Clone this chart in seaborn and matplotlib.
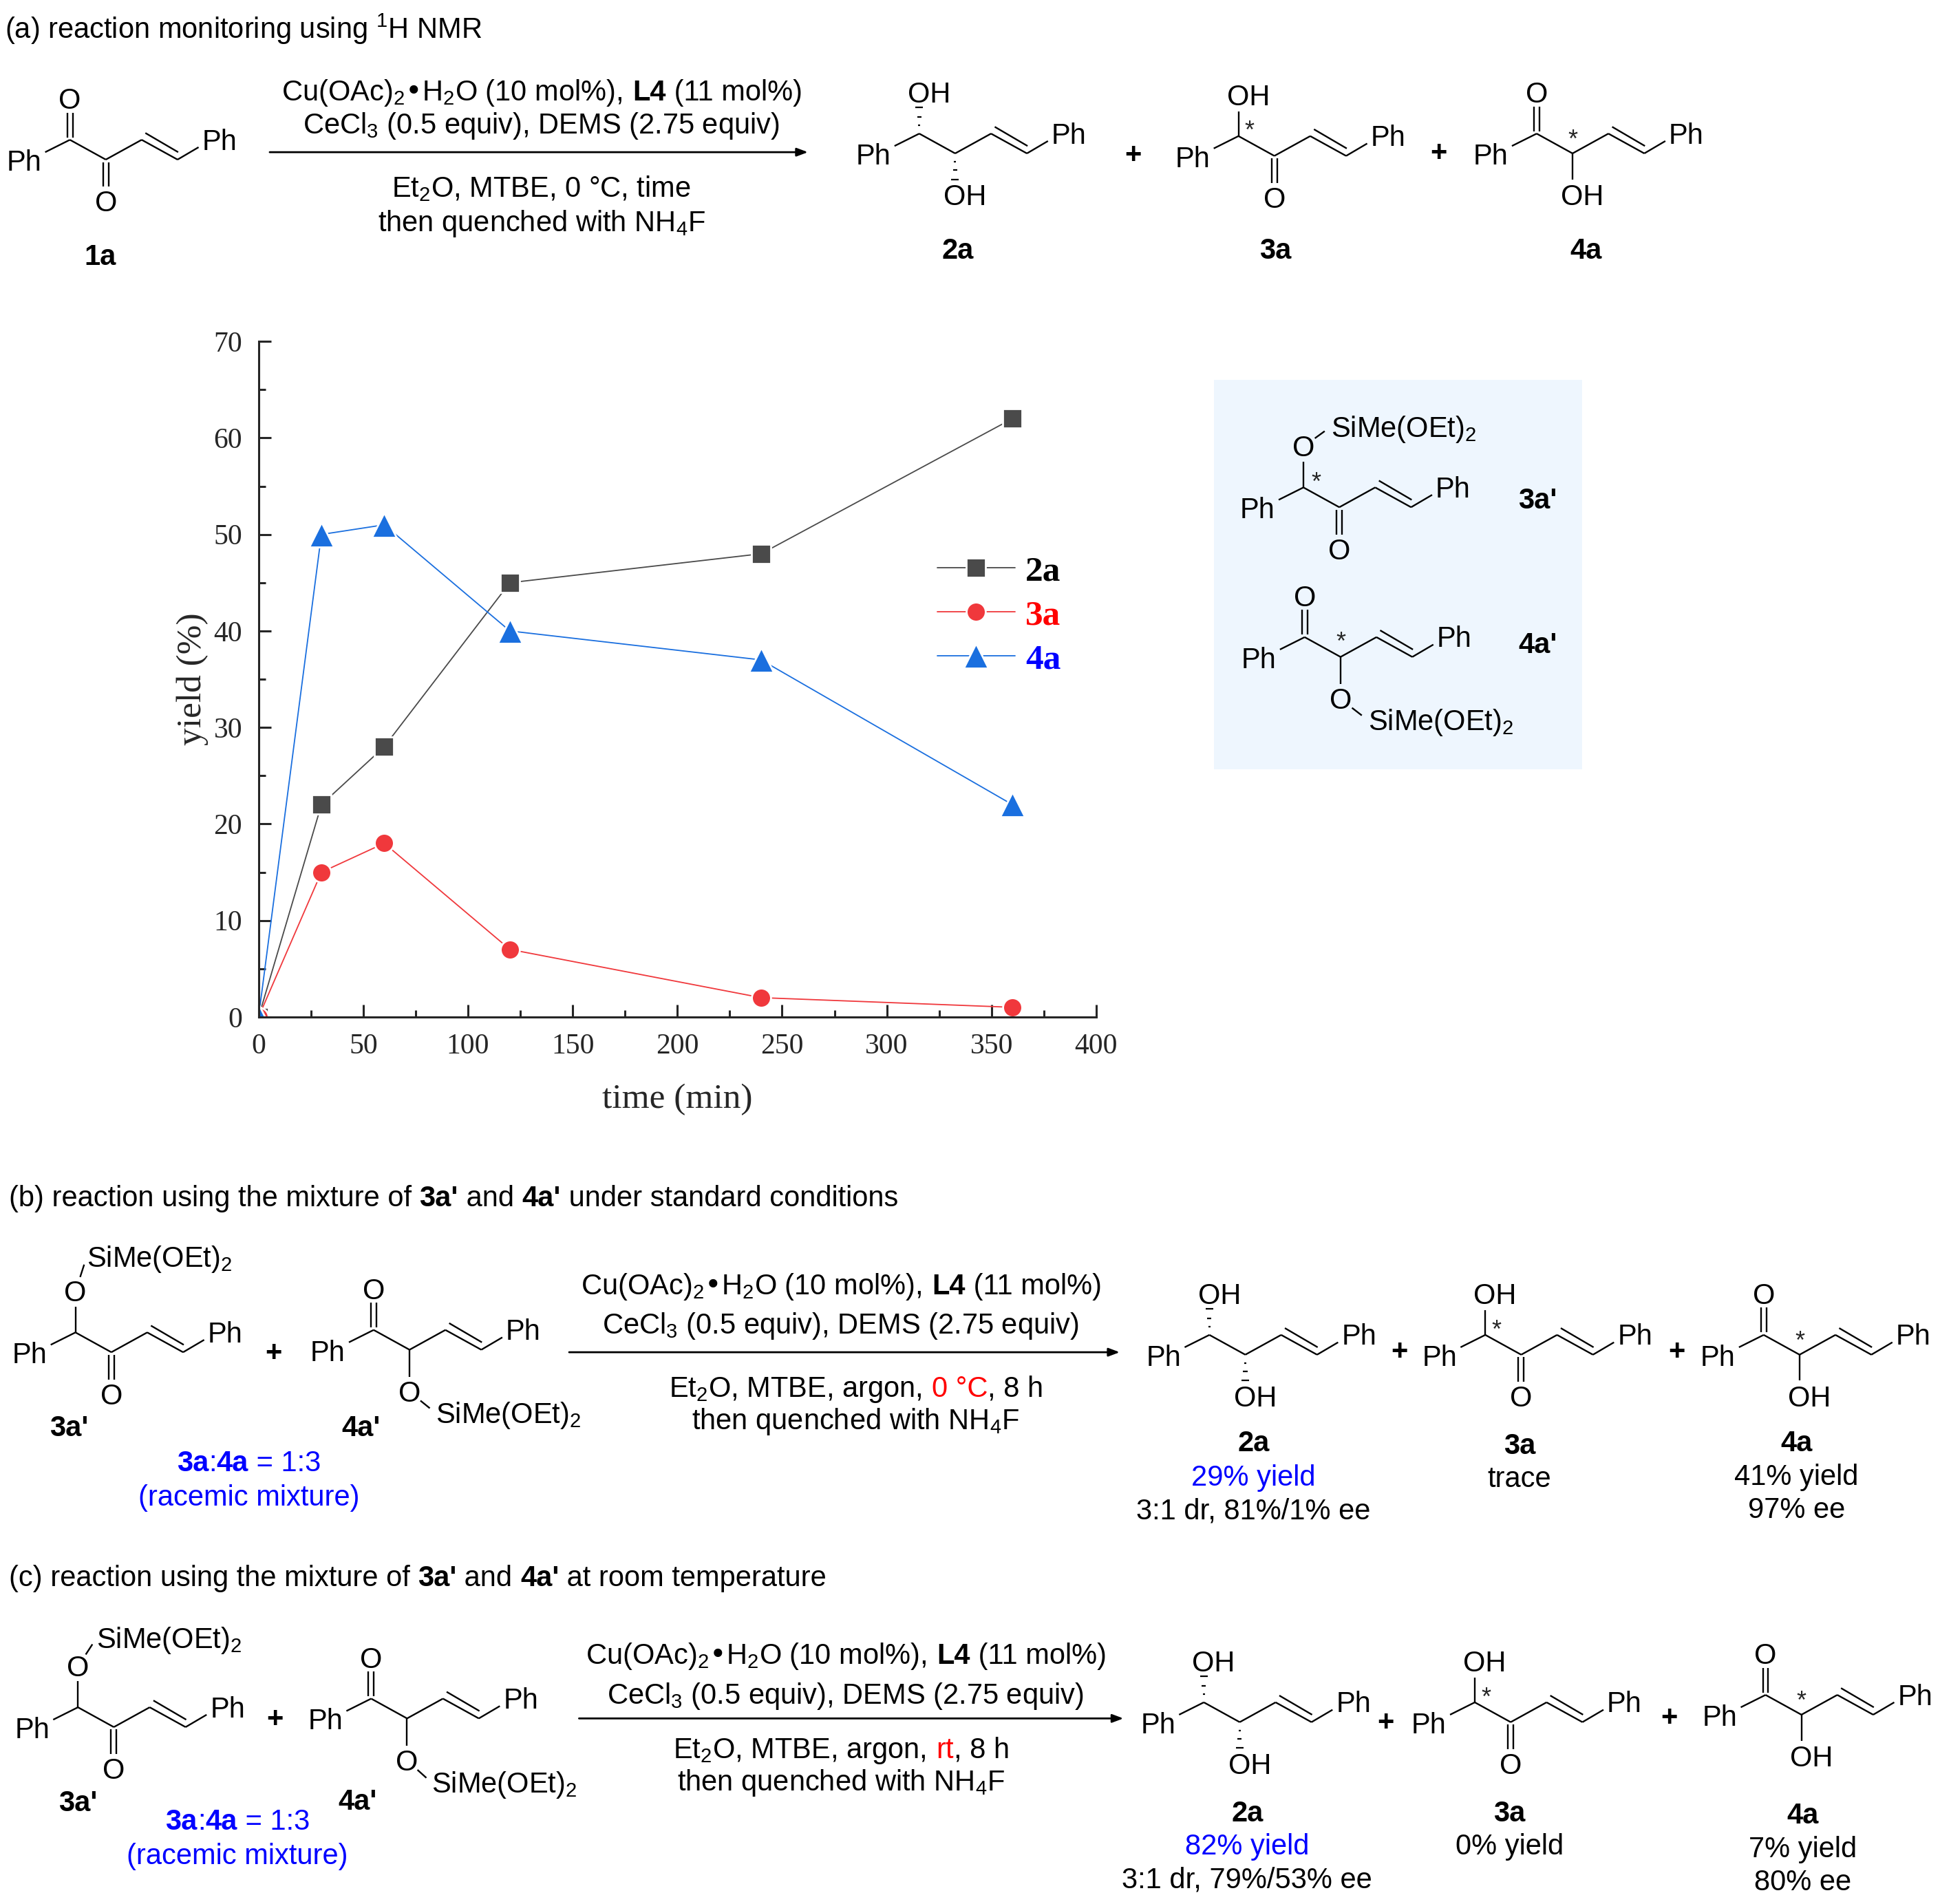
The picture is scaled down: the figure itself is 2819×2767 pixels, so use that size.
import pandas as pd
import matplotlib.pyplot as plt
from matplotlib.patches import Rectangle
import seaborn as sns

# yield curves
time_min = [0, 30, 60, 120, 240, 360]
yield_2a = [0, 22, 28, 45, 48, 62]
yield_3a = [0, 15, 18, 7, 2, 1]
yield_4a = [0, 50, 51, 40, 37, 22]
x_ticks = [0, 50, 100, 150, 200, 250, 300, 350, 400]
y_ticks = [0, 10, 20, 30, 40, 50, 60, 70]
products = ['2a', '3a', '4a']
line_colors = ['#4a4a4a', '#f0383c', '#1a6fdf']
label_colors = ['black', 'red', 'blue']

sns.set_theme(style='ticks')
plt.rcParams['font.family'] = ['Liberation Sans', 'DejaVu Sans']
plt.rcParams['mathtext.default'] = 'regular'

W, H = 1568, 1539   # scheme drawn in these units
FS = 30
LW = 1.7
BLUE = '#0000ff'
SI = 'SiMe(OEt)$_2$'

df = pd.DataFrame({'time': time_min * 3,
                   'yield': yield_2a + yield_3a + yield_4a,
                   'product': [p for p in products for _ in time_min]})

fig = plt.figure(figsize=(28.19, 27.67), dpi=100)
x0, x1, y0, y1 = 209, 886, 822, 276
ax = fig.add_axes([x0 / W, 1 - y0 / H, (x1 - x0) / W, (y0 - y1) / H])
sns.lineplot(data=df, x='time', y='yield', hue='product', style='product',
             hue_order=products, palette=line_colors, dashes=False,
             markers={'2a': 's', '3a': 'o', '4a': '^'}, markersize=20,
             markeredgecolor='white', markeredgewidth=2, linewidth=1.3, ax=ax)
# triangles are drawn bigger than the other two
for ln in ax.lines:
    if ln.get_marker() == '^':
        ln.set_markersize(26)
ax.set_xlim(0, 400)
ax.set_ylim(0, 70)
ax.set_xticks(x_ticks)
ax.set_yticks(y_ticks)
ax.set_xticks([t + 25 for t in x_ticks[:-1]], minor=True)
ax.set_yticks([t + 5 for t in y_ticks[:-1]], minor=True)
ax.tick_params(which='major', direction='in', length=13, width=2.2, pad=17, labelsize=30)
ax.tick_params(which='minor', direction='in', length=7, width=2.2)
for lab in ax.get_xticklabels() + ax.get_yticklabels():
    lab.set_family('Liberation Serif')
sns.despine(ax=ax)
ax.spines['left'].set_linewidth(2.2)
ax.spines['bottom'].set_linewidth(2.2)
ax.set_xlabel('time (min)', family='Liberation Serif', fontsize=37, va='center')
ax.set_ylabel('yield (%)', family='Liberation Serif', fontsize=37, va='center')
ax.xaxis.set_label_coords(0.5, -0.122)
ax.yaxis.set_label_coords(-0.079, 0.5)
h, l = ax.get_legend_handles_labels()
ax.legend(h, l, loc='center left', bbox_to_anchor=(0.81, 0.594), borderaxespad=0, borderpad=0,
          frameon=False, handlelength=2.2, handletextpad=0.3, labelspacing=0.33,
          labelcolor=label_colors, prop={'family': 'Liberation Serif', 'weight': 'bold', 'size': 37})
for ln in ax.get_legend().get_lines():
    if ln.get_marker() == '^':
        ln.set_markersize(26)

# overlay for the reaction schemes, y runs downward
ov = fig.add_axes([0, 0, 1, 1], zorder=5)
ov.set_xlim(0, W)
ov.set_ylim(H, 0)
ov.axis('off')
ov.patch.set_visible(False)
rend = fig.canvas.get_renderer()


def seg_width(s, weight):
    t1 = ov.text(0, 0, s + 'x', fontsize=FS, fontweight=weight)
    t2 = ov.text(0, 0, 'x', fontsize=FS, fontweight=weight)
    w = t1.get_window_extent(rend).width - t2.get_window_extent(rend).width
    t1.remove()
    t2.remove()
    return w * W / fig.bbox.width


def line(x, y, *segs, ha='center'):
    # segs are strings or (text, weight, color)
    segs = [(s, 'normal', 'black') if isinstance(s, str) else s for s in segs]
    widths = [seg_width(s[0], s[1]) for s in segs]
    pos = x - sum(widths) / 2 if ha == 'center' else x
    for (s, weight, color), w in zip(segs, widths):
        ov.text(pos, y + 8, s, fontsize=FS, fontweight=weight, color=color, ha='left', va='baseline')
        pos += w


def bold(s, color='black'):
    return (s, 'bold', color)


def asterisk(x, y):
    ov.text(x, y + 12, '*', fontsize=26, ha='center', va='baseline')


def bond(xa, ya, xb, yb, lw=LW):
    ov.plot([xa, xb], [ya, yb], color='black', lw=lw, solid_capstyle='butt')


def hashed(x, y, sign):
    # hashed wedge, narrow at the carbon
    for dist, half in [(6.7, 0.8), (13.5, 1.7), (21, 3.1)]:
        bond(x - half, y + sign * dist, x + half, y + sign * dist, lw=1.6)


def mol(cx, cy, up, down, si=None, star=False):
    dx, dy = 29, 16
    c2 = (cx + dx, cy + dy)
    c3 = (cx + 2 * dx, cy)
    c4 = (cx + 3 * dx, cy + dy)
    bond(cx - 20, cy + 10, cx, cy)
    bond(cx, cy, *c2)
    bond(*c2, *c3)
    bond(*c3, *c4)
    bond(c3[0] + 3, c3[1] - 5.5, c4[0] + 0.5, c4[1] - 6)
    bond(*c4, c4[0] + 17, c4[1] - 10)
    line(cx - 37, cy + 17, 'Ph')
    line(c4[0] + 34, c4[1] - 16, 'Ph')
    # group on the first carbon
    if up == 'O':
        bond(cx - 2.2, cy - 2, cx - 2.2, cy - 22)
        bond(cx + 2.2, cy - 2, cx + 2.2, cy - 22)
        line(cx, cy - 33, 'O')
    elif up == 'OHh':
        hashed(cx, cy, -1)
        line(cx + 8, cy - 33, 'OH')
    elif up == 'OH':
        bond(cx, cy, cx, cy - 20)
        line(cx + 8, cy - 33, 'OH')
        asterisk(cx + 9, cy - 10)
    elif up == 'OSi':
        bond(cx, cy, cx, cy - 21)
        line(cx, cy - 33, 'O')
        bond(cx + 0.42 * si[0], cy - 33 + 0.42 * si[1], cx + 0.78 * si[0], cy - 33 + 0.78 * si[1])
        line(cx + si[0], cy - 33 + si[1], SI, ha='left')
    # group on the second carbon
    x2, y2 = c2
    if down == 'O':
        bond(x2 - 2.2, y2 + 2, x2 - 2.2, y2 + 22)
        bond(x2 + 2.2, y2 + 2, x2 + 2.2, y2 + 22)
        line(x2, y2 + 34, 'O')
    elif down == 'OHh':
        hashed(x2, y2, 1)
        line(x2 + 8, y2 + 34, 'OH')
    elif down == 'OH':
        bond(x2, y2, x2, y2 + 21)
        line(x2 + 8, y2 + 34, 'OH')
        asterisk(x2, y2 - 17)
    elif down == 'OSi':
        bond(x2, y2, x2, y2 + 22)
        line(x2, y2 + 34, 'O')
        bond(x2 + 0.42 * si[0], y2 + 34 + 0.42 * si[1], x2 + 0.78 * si[0], y2 + 34 + 0.78 * si[1])
        line(x2 + si[0], y2 + 34 + si[1], SI, ha='left')
        if star:
            asterisk(x2, y2 - 18)
    if star and up == 'OSi':
        asterisk(cx + 10, cy - 10)


def arrow(xa, xb, y):
    ov.annotate('', xy=(xb, y), xytext=(xa, y),
                arrowprops=dict(arrowstyle='-|>,head_length=0.8,head_width=0.3', color='black',
                                lw=2.0, shrinkA=0, shrinkB=0))


PLUS = bold('+')
COND1 = ['Cu(OAc)$_2$•H$_2$O (10 mol%), ', bold('L4'), ' (11 mol%)']
COND2 = ['CeCl$_3$ (0.5 equiv), DEMS (2.75 equiv)']
QUENCH = ['then quenched with NH$_4$F']

# scheme (a)
line(4, 23, '(a) reaction monitoring using $^1$H NMR', ha='left')
mol(56.5, 113, 'O', 'O')
line(81, 206, bold('1a'))
arrow(218, 653, 123)
line(438, 73, *COND1)
line(438, 100, *COND2)
line(438, 151, 'Et$_2$O, MTBE, 0 °C, time')
line(438, 179, *QUENCH)
mol(743, 108, 'OHh', 'OHh')
line(774, 201, bold('2a'))
line(916, 124, PLUS)
mol(1001, 110, 'OH', 'O')
line(1031, 201, bold('3a'))
line(1163, 122, PLUS)
mol(1242, 108, 'O', 'OH')
line(1282, 201, bold('4a'))

# silyl ether panel
ov.add_patch(Rectangle((981, 307), 298, 315, color='#eef6fe', lw=0, zorder=0))
mol(1053.5, 394, 'OSi', 'O', si=(22, -16), star=True)
line(1243, 403, bold("3a'"))
mol(1054.5, 515, 'O', 'OSi', si=(22, 17), star=True)
line(1243, 520, bold("4a'"))

# scheme (b)
line(7, 967, '(b) reaction using the mixture of ', bold("3a'"), ' and ', bold("4a'"),
     ' under standard conditions', ha='left')
mol(61, 1077, 'OSi', 'O', si=(9, -28))
line(221, 1092, PLUS)
mol(302, 1075, 'O', 'OSi', si=(21, 17))
line(56, 1153, bold("3a'"))
line(292, 1153, bold("4a'"))
line(201, 1181, bold('3a', BLUE), (':', 'normal', BLUE), bold('4a', BLUE), (' = 1:3', 'normal', BLUE))
line(201, 1209, ('(racemic mixture)', 'normal', BLUE))
arrow(460, 905, 1093)
line(680, 1038, *COND1)
line(680, 1070, *COND2)
line(692, 1121, 'Et$_2$O, MTBE, argon, ', ('0 °C', 'normal', 'red'), ', 8 h')
line(692, 1147, *QUENCH)
mol(977.5, 1079, 'OHh', 'OHh')
line(1131, 1091, PLUS)
mol(1200.5, 1079, 'OH', 'O')
line(1355, 1091, PLUS)
mol(1425.5, 1079, 'O', 'OH')
line(1013, 1165, bold('2a'))
line(1013, 1193, ('29% yield', 'normal', BLUE))
line(1013, 1220, '3:1 dr, 81%/1% ee')
line(1228, 1167, bold('3a'))
line(1228, 1194, 'trace')
line(1452, 1165, bold('4a'))
line(1452, 1192, '41% yield')
line(1452, 1219, '97% ee')

# scheme (c)
line(7, 1274, '(c) reaction using the mixture of ', bold("3a'"), ' and ', bold("4a'"),
     ' at room temperature', ha='left')
mol(63, 1380, 'OSi', 'O', si=(15, -23))
line(222, 1388, PLUS)
mol(300, 1373, 'O', 'OSi', si=(20, 18))
line(63, 1456, bold("3a'"))
line(289, 1455, bold("4a'"))
line(192, 1471, bold('3a', BLUE), (':', 'normal', BLUE), bold('4a', BLUE), (' = 1:3', 'normal', BLUE))
line(192, 1499, ('(racemic mixture)', 'normal', BLUE))
arrow(468, 908, 1389)
line(684, 1337, *COND1)
line(684, 1369, *COND2)
line(680, 1413, 'Et$_2$O, MTBE, argon, ', ('rt', 'normal', 'red'), ', 8 h')
line(680, 1439, *QUENCH)
mol(973, 1376, 'OHh', 'OHh')
line(1120, 1391, PLUS)
mol(1192, 1376, 'OH', 'O')
line(1349, 1387, PLUS)
mol(1427, 1370, 'O', 'OH')
line(1008, 1464, bold('2a'))
line(1008, 1491, ('82% yield', 'normal', BLUE))
line(1008, 1518, '3:1 dr, 79%/53% ee')
line(1220, 1464, bold('3a'))
line(1220, 1491, '0% yield')
line(1457, 1466, bold('4a'))
line(1457, 1493, '7% yield')
line(1457, 1520, '80% ee')

plt.savefig('out.png', dpi=100)
